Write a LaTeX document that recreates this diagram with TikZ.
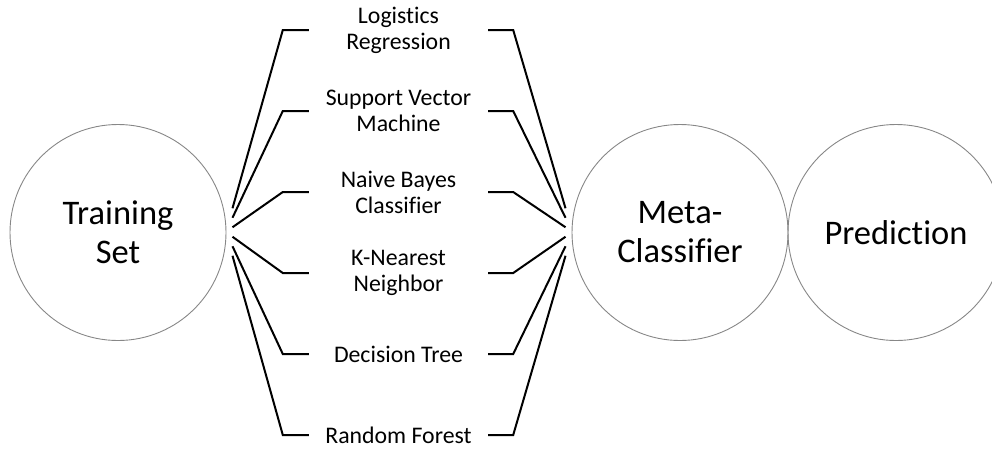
\documentclass[tikz,border=0pt]{standalone}
\usepackage{fontspec}
\setmainfont[Ligatures=NoCommon]{Carlito}
\definecolor{ringgray}{RGB}{135,135,135}
\begin{document}
\begin{tikzpicture}[x=1pt,y=-1pt,
  big/.style={circle,draw=ringgray,line width=0.9pt,minimum size=216pt,inner sep=0pt,align=center,font=\fontsize{34.5}{39}\selectfont},
  algo/.style={minimum width=179pt,inner sep=0pt,align=center,font=\fontsize{23.8}{26}\selectfont},
  link/.style={line width=2pt,line join=miter}]
\useasboundingbox (0,0) rectangle (992,448);
\node[big] (ts) at (118,232.5) {Training\\Set};
\node[big] (mc) at (680,232.5) {Meta-\\Classifier};
\node[big] (pr) at (896,232.5) {Prediction};

\node[algo] (m1) at (398.5,30)  {Logistics\\Regression};
\node[algo] (m2) at (398.5,111) {Support Vector\\Machine};
\node[algo] (m3) at (398.5,192) {Naive Bayes\\Classifier};
\node[algo] (m4) at (398.5,273) {K-Nearest\\Neighbor};
\node[algo] (m5) at (398.5,354) {Decision Tree};
\node[algo] (m6) at (398.5,435) {Random Forest};

\foreach \k/\y in {1/208.25,2/217.75,3/227.25,4/236.75,5/246.25,6/255.75}{
  \coordinate (a\k) at (232.5,\y);
  \coordinate (b\k) at (565.5,\y);
}
\foreach \k in {1,...,6}{
  \draw[link] (a\k) -- ([xshift=-26pt]m\k.west) -- (m\k.west);
  \draw[link] (m\k.east) -- ([xshift=25pt]m\k.east) -- (b\k);
}
\end{tikzpicture}
\end{document}
